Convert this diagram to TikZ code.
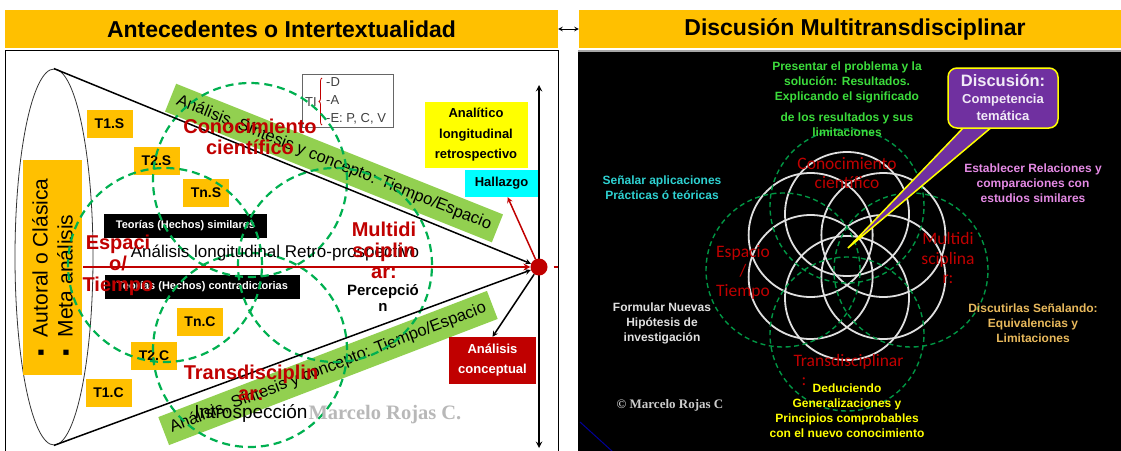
\documentclass[tikz,border=0pt]{standalone}
\usepackage{fontspec}
\setmainfont{Liberation Sans}
\newfontfamily\carlitofont{Carlito}
\newfontfamily\serifbold{Liberation Serif}
\usepackage{tikz}
\usetikzlibrary{shapes}
\usetikzlibrary{arrows}
\usetikzlibrary{positioning}
\usetikzlibrary{decorations.pathreplacing}
\definecolor{naranja}{HTML}{FFC000}
\definecolor{verdeband}{HTML}{92D050}
\definecolor{verdedash}{HTML}{00B050}
\definecolor{rojo}{HTML}{C00000}
\definecolor{morado}{HTML}{7030A0}
\definecolor{cian}{HTML}{00FFFF}
\definecolor{amarillo}{HTML}{FFFF00}
\definecolor{verdeclaro}{HTML}{3CDC3C}
\definecolor{rosa}{HTML}{E58AE5}
\definecolor{turquesa}{HTML}{2ED1D1}
\definecolor{arena}{HTML}{E8B95C}
\tikzstyle{titre}=[fill=naranja,minimum height=38pt,inner sep=0pt,
font=\bfseries\fontsize{23}{26}\selectfont]
\tikzstyle{tbox}=[fill=naranja,minimum width=46pt,minimum height=28pt,inner sep=0pt,
font=\bfseries\fontsize{14}{15}\selectfont]
\tikzstyle{teoria}=[fill=black,text=white,minimum height=24pt,inner sep=0pt,
font=\bfseries\fontsize{11}{13}\selectfont]
\tikzstyle{bande}=[fill=verdeband,minimum width=352pt,minimum height=30pt,inner sep=0pt,
font=\fontsize{16.5}{18}\selectfont]
\tikzstyle{cercle}=[draw=verdedash,line width=2.2pt,dash pattern=on 8pt off 5pt]
\tikzstyle{cercled}=[draw=verdedash!85!black,line width=1.4pt,dash pattern=on 5pt off 3.5pt]
\tikzstyle{fleur}=[draw=white!88!black,line width=1.8pt]
\tikzstyle{rouge}=[text=rojo,align=center,font=\bfseries\fontsize{20}{21}\selectfont]
\tikzstyle{rouged}=[text=rojo,align=center,font=\carlitofont\fontsize{17.5}{19.5}\selectfont]
\tikzstyle{remarque}=[align=center,font=\bfseries\fontsize{12}{15}\selectfont]
\tikzstyle{suite}=[->,>=stealth,line width=1.5pt]
\begin{document}
\begin{tikzpicture}[x=1pt,y=-1pt]
\useasboundingbox (0,0) rectangle (1121,450);
\node[titre,minimum width=553pt] (titreG) at (281.5,29) {Antecedentes o Intertextualidad};
\node[titre,minimum width=542pt] (titreD) at (850,29) {\hspace{10pt}Discusión Multitransdisciplinar};
\draw[<->,>=stealth,line width=1pt] (titreG) -- (titreD);
%panneau gauche
\draw[line width=0.8pt] (5,50) rectangle (558,455);
\node[ellipse,draw=black!80,line width=0.8pt,minimum width=78pt,minimum height=376pt,inner sep=0pt] (cono) at (54,257) {};
\node[fill=naranja,rotate=90,minimum width=215pt,minimum height=59pt,inner sep=0pt,align=left,
font=\fontsize{21}{25}\selectfont] (autoral) at (52.5,267.5) {▪\hspace{12pt}Autoral o Clásica\\▪\hspace{12pt}Meta análisis};
\node[bande,rotate=-21.8] (bandeH) at (334,163) {Análisis, Síntesis y concepto: Tiempo/Espacio};
\node[bande,rotate=21] (bandeB) at (328,368) {Análisis, Síntesis y concepto: Tiempo/Espacio};
\node[tbox] (t1s) at (109.5,124) {T1.S};
\node[tbox] (t2s) at (156.5,161) {T2.S};
\node[tbox] (tns) at (206,192.5) {Tn.S};
\node[tbox] (tnc) at (200,321.5) {Tn.C};
\node[tbox] (t2c) at (154,356) {T2.C};
\node[tbox] (t1c) at (108.5,393) {T1.C};
\node[draw=black!60,minimum width=91pt,minimum height=53pt] (ti) at (347.5,100.5) {};
\node[font=\fontsize{13}{18}\selectfont,text=black!75,inner sep=0pt] (tilab) at (311,102) {TI};
\node[font=\fontsize{13}{18}\selectfont,text=black!75,align=left,anchor=west,inner sep=0pt] (tilist) at (326,101) {-D\\-A\\-E: P, C, V};
\draw[rojo,line width=0.8pt,decorate,decoration={brace,amplitude=3pt}] (322,125) -- (322,78);
\node[teoria,minimum width=163pt] (similares) at (185.5,225.5) {Teorías (Hechos) similares};
\node[teoria,minimum width=195pt] (contradict) at (202.5,286.5) {Teorías (Hechos) contradictorias};
\node[fill=amarillo,minimum width=103pt,minimum height=66pt,inner sep=0pt,align=center,
font=\bfseries\fontsize{13}{20.5}\selectfont] (analitico) at (476,135) {Analítico\\longitudinal\\retrospectivo};
\node[fill=cian,minimum width=73pt,minimum height=27pt,inner sep=0pt,
font=\bfseries\fontsize{13}{15}\selectfont] (hallazgo) at (501.5,183.5) {Hallazgo};
\node[fill=rojo,text=white,minimum width=87pt,minimum height=47pt,inner sep=0pt,align=center,
font=\bfseries\fontsize{13}{20}\selectfont] (conceptual) at (492.5,360.5) {Análisis\\conceptual};
\coordinate (ejeA) at (539,85);
\coordinate (ejeB) at (539,448);
\draw[<->,>=stealth,line width=1.8pt] (ejeA) -- (ejeB);
\draw[cercle] (250,180) circle (97pt);
\draw[cercle] (165,265) circle (97pt);
\draw[cercle] (335,265) circle (97pt);
\draw[cercle] (250,350) circle (97pt);
\node[circle,fill=rojo,minimum size=17pt,inner sep=0pt] (apex) at (539,267) {};
\coordinate (rojoIni) at (83,267);
\coordinate (rojoFin) at (558,267);
\draw[suite] (cono.north) -- (apex);
\draw[suite] (cono.south) -- (apex);
\draw[suite,rojo,line width=2pt] (rojoIni) -- (apex);
\draw[rojo,line width=2pt] ([xshift=6pt]apex.east) -- (rojoFin);
\draw[suite,rojo] (apex) -- (hallazgo);
\draw[suite] (apex) -- (conceptual.north);
\node[font=\fontsize{17}{19}\selectfont] (retro) at (275,253) {Análisis longitudinal Retro-prospectivo};
\node[rouge] (conoc) at (250,137) {Conocimiento\\científico};
\node[rouge] (espacio) at (118,265) {Espaci\\o/\\Tiempo};
\node[rouge] (multi) at (384,250) {Multidi\\sciplin\\ar:};
\node[rouge] (trans) at (251,383) {Transdisciplin\\ar:};
\node[align=center,font=\bfseries\fontsize{15}{16.5}\selectfont] (percep) at (383,298) {Percepció\\n};
\node[font=\fontsize{19}{21}\selectfont] (intro) at (251,413) {Introspección};
\node[text=black!28,font=\serifbold\bfseries\fontsize{20.5}{22}\selectfont] (firmaG) at (385,415) {Marcelo Rojas C.};
%panneau droit
\fill[black] (578,51) rectangle (1121,455);
\draw[black!35,line width=1.5pt] (578,51) -- (1121,51);
\draw[blue!60!black,line width=1pt] (580,422) -- (613,452);
\foreach \ang in {30,90,...,330}
  \draw[fleur] (847,256) ++(\ang:42) circle (62pt);
\draw[cercled] (847,206) circle (77pt);
\draw[cercled] (783,270) circle (77pt);
\draw[cercled] (911,270) circle (77pt);
\draw[cercled] (847,334) circle (77pt);
\node[rouged] (conocD) at (847,173) {Conocimiento\\científico};
\node[rouged] (espacioD) at (743,272) {Espacio\\/\\Tiempo};
\node[rouged] (multiD) at (948,258) {Multidi\\sciplina\\r:};
\node[rouged,align=left,anchor=west] (transD) at (790,370) {Transdisciplinar\\\hspace{8pt}:};
\node[remarque,text=verdeclaro] (presentar) at (847,82) {Presentar el problema y la\\solución: Resultados.\\Explicando el significado};
\node[remarque,text=verdeclaro] (resultados) at (847,125) {de los resultados y sus\\limitaciones};
\node[remarque,text=turquesa] (senalar) at (662,188) {Señalar aplicaciones\\Prácticas ó teóricas};
\node[remarque,text=rosa] (establecer) at (1033,183) {Establecer Relaciones y\\comparaciones con\\estudios similares};
\node[remarque,text=white!88!black] (formular) at (662,323) {Formular Nuevas\\Hipótesis de\\investigación};
\node[remarque,text=arena] (discutir) at (1033,323) {Discutirlas Señalando:\\Equivalencias y\\Limitaciones};
\node[remarque,text=amarillo] (deducir) at (847,410.5) {Deduciendo\\Generalizaciones y\\Principios comprobables\\con el nuevo conocimiento};
\node[text=white!80!black,font=\serifbold\bfseries\fontsize{13}{15}\selectfont] (firmaD) at (670,405) {© Marcelo Rojas C};
\coordinate (punta) at (848,248);
\coordinate (baseA) at (965,126);
\coordinate (baseB) at (993,126);
\filldraw[fill=morado,draw=amarillo,line width=1.5pt] (baseA) -- (punta) -- (baseB);
\node[fill=morado,draw=amarillo,line width=1.5pt,rounded corners=9pt,minimum width=110pt,minimum height=60pt,
inner sep=0pt,align=center,text=white!90!morado,font=\bfseries\fontsize{13}{17}\selectfont] (discusion) at (1003,98)
{{\fontsize{16.5}{19}\selectfont Discusión:}\\Competencia\\temática};
\end{tikzpicture}
\end{document}
